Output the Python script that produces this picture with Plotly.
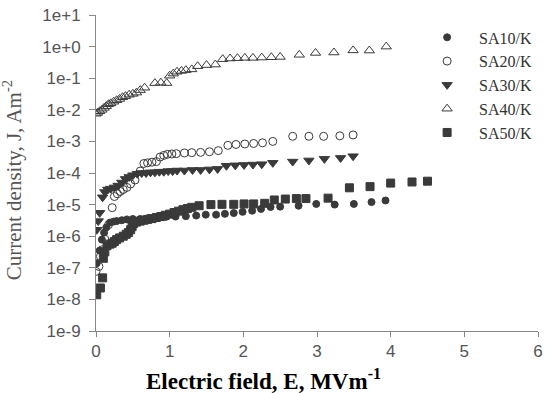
import plotly.graph_objects as go

# ---- data ----
sa10_x = [0.01, 0.05, 0.08, 0.11, 0.14, 0.19, 0.24, 0.28, 0.35, 0.42, 0.50, 0.60, 0.70, 0.82, 0.95,
          1.08, 1.22, 1.36, 1.49, 1.63, 1.75, 1.87, 1.99, 2.12, 2.24, 2.37, 2.50, 2.75, 2.99, 3.24,
          3.50, 3.74, 3.93]
sa10_y = [1.4e-7, 3.5e-7, 7.8e-7, 1.3e-6, 1.9e-6, 2.7e-6, 2.9e-6, 3.0e-6, 3.2e-6, 3.4e-6, 3.5e-6,
          3.5e-6, 3.7e-6, 4.0e-6, 4.1e-6, 4.2e-6, 4.3e-6, 4.5e-6, 4.8e-6, 4.8e-6, 5.1e-6, 5.4e-6,
          5.9e-6, 6.4e-6, 7.3e-6, 8.4e-6, 8.6e-6, 9.2e-6, 1.05e-5, 1.0e-5, 1.05e-5, 1.2e-5, 1.35e-5]

sa20_x = [0.00, 0.04, 0.06, 0.08, 0.12, 0.17, 0.22, 0.25, 0.29, 0.33, 0.37, 0.42, 0.47, 0.53, 0.60,
          0.65, 0.70, 0.76, 0.82, 0.87, 0.92, 0.97, 1.03, 1.09, 1.20, 1.30, 1.42, 1.54, 1.66, 1.79,
          1.90, 2.02, 2.14, 2.26, 2.40, 2.67, 2.89, 3.09, 3.31, 3.49]
sa20_y = [7.7e-8, 1.1e-7, 2.3e-7, 3.7e-7, 8.0e-7, 2.3e-6, 8.0e-6, 1.8e-5, 2.2e-5, 2.6e-5, 3.0e-5,
          3.5e-5, 4.5e-5, 6.0e-5, 1.15e-4, 2.0e-4, 2.1e-4, 2.2e-4, 2.3e-4, 3.2e-4, 3.6e-4, 3.9e-4,
          4.0e-4, 4.1e-4, 4.3e-4, 4.4e-4, 4.5e-4, 4.7e-4, 5.1e-4, 7.5e-4, 8.0e-4, 8.3e-4, 8.6e-4,
          9.0e-4, 1.0e-3, 1.45e-3, 1.45e-3, 1.45e-3, 1.5e-3, 1.6e-3]

sa30_x = [0.01, 0.03, 0.05, 0.09, 0.12, 0.16, 0.20, 0.25, 0.30, 0.35, 0.40, 0.45, 0.50, 0.56, 0.62,
          0.68, 0.74, 0.80, 0.86, 0.92, 0.98, 1.04, 1.10, 1.20, 1.31, 1.42, 1.54, 1.65, 1.77, 1.89,
          2.01, 2.13, 2.25, 2.40, 2.67, 2.89, 3.10, 3.32, 3.49]
sa30_y = [1.6e-6, 3.0e-6, 5.5e-6, 1.7e-5, 2.5e-5, 3.0e-5, 3.2e-5, 3.5e-5, 4.0e-5, 5.0e-5, 6.5e-5,
          7.5e-5, 8.5e-5, 9.5e-5, 1.0e-4, 1.0e-4, 1.05e-4, 1.05e-4, 1.1e-4, 1.1e-4, 1.15e-4, 1.15e-4,
          1.2e-4, 1.2e-4, 1.25e-4, 1.25e-4, 1.3e-4, 1.35e-4, 1.7e-4, 1.75e-4, 1.8e-4, 1.85e-4,
          1.9e-4, 2.1e-4, 2.3e-4, 2.5e-4, 2.8e-4, 3.0e-4, 3.4e-4]

sa40_x = [0.00, 0.02, 0.05, 0.08, 0.11, 0.14, 0.17, 0.20, 0.24, 0.28, 0.32, 0.36, 0.40, 0.45, 0.50,
          0.55, 0.60, 0.66, 0.80, 0.88, 0.96, 1.00, 1.05, 1.10, 1.16, 1.22, 1.30, 1.38, 1.50, 1.62,
          1.72, 1.82, 1.92, 2.02, 2.13, 2.25, 2.38, 2.50, 2.76, 2.98, 3.23, 3.49, 3.71, 3.94]
sa40_y = [7.5e-3, 8.0e-3, 9.0e-3, 1.0e-2, 1.15e-2, 1.3e-2, 1.5e-2, 1.6e-2, 1.8e-2, 2.0e-2, 2.2e-2,
          2.5e-2, 2.7e-2, 3.0e-2, 3.2e-2, 3.5e-2, 4.2e-2, 5.0e-2, 7.0e-2, 7.2e-2, 7.0e-2, 1.2e-1,
          1.4e-1, 1.6e-1, 1.7e-1, 1.8e-1, 1.9e-1, 2.4e-1, 2.6e-1, 2.7e-1, 4.0e-1, 4.2e-1, 4.3e-1,
          4.4e-1, 4.4e-1, 4.5e-1, 4.6e-1, 4.7e-1, 5.5e-1, 6.3e-1, 6.5e-1, 7.6e-1, 7.5e-1, 1.0]

sa50_x = [0.01, 0.06, 0.09, 0.10, 0.12, 0.15, 0.19, 0.22, 0.25, 0.28, 0.32, 0.37, 0.41, 0.44, 0.47,
          0.49, 0.51, 0.55, 0.60, 0.65, 0.70, 0.76, 0.82, 0.88, 0.94, 1.00, 1.06, 1.12, 1.18, 1.24,
          1.30, 1.40, 1.56, 1.71, 1.87, 2.01, 2.14, 2.29, 2.42, 2.57, 2.72, 2.85, 3.15, 3.44, 3.72,
          4.00, 4.29, 4.50]
sa50_y = [1.4e-8, 2.3e-8, 4.8e-8, 2.0e-7, 3.2e-7, 5.0e-7, 5.6e-7, 6.0e-7, 6.8e-7, 7.8e-7, 8.8e-7,
          1.0e-6, 1.15e-6, 1.3e-6, 1.6e-6, 2.0e-6, 2.5e-6, 2.8e-6, 3.0e-6, 3.2e-6, 3.4e-6, 3.6e-6,
          3.9e-6, 4.2e-6, 4.6e-6, 5.0e-6, 5.6e-6, 6.2e-6, 6.9e-6, 7.5e-6, 8.2e-6, 9.2e-6, 1.0e-5,
          1.02e-5, 1.02e-5, 1.05e-5, 1.05e-5, 1.1e-5, 1.4e-5, 1.5e-5, 1.55e-5, 1.55e-5, 1.6e-5,
          3.4e-5, 3.7e-5, 4.8e-5, 5.2e-5, 5.5e-5]

names = ["SA10/K", "SA20/K", "SA30/K", "SA40/K", "SA50/K"]
y_tickvals = [1e1, 1e0, 1e-1, 1e-2, 1e-3, 1e-4, 1e-5, 1e-6, 1e-7, 1e-8, 1e-9]
y_ticktext = ["1e+1", "1e+0", "1e-1", "1e-2", "1e-3", "1e-4", "1e-5", "1e-6", "1e-7", "1e-8", "1e-9"]
x_tickvals = [0, 1, 2, 3, 4, 5, 6]

DARK = "#3a3a3a"
series = [
    (sa10_x, sa10_y, "circle", 7),
    (sa20_x, sa20_y, "circle-open", 8),
    (sa30_x, sa30_y, "triangle-down", 9),
    (sa40_x, sa40_y, "triangle-up-open", 9),
    (sa50_x, sa50_y, "square", 8),
]

fig = go.Figure()
for (xs, ys, sym, sz), nm in zip(series, names):
    fig.add_trace(go.Scatter(
        x=xs, y=ys, mode="markers", name=nm,
        marker=dict(symbol=sym, size=sz, color=DARK, line=dict(width=1, color=DARK)),
    ))

fig.update_layout(
    width=548, height=393,
    margin=dict(l=96, r=5, t=15, b=62),
    paper_bgcolor="white", plot_bgcolor="white",
    showlegend=True,
    legend=dict(x=0.722, y=0.983, xanchor="left", yanchor="top", itemwidth=54,
                font=dict(family="Liberation Serif, Times New Roman, serif", size=16, color="#333"),
                bgcolor="rgba(0,0,0,0)", tracegroupgap=0),
    xaxis=dict(range=[0, 6], tickvals=x_tickvals, showline=True, linecolor="#888", linewidth=1,
               ticks="outside", ticklen=5, tickcolor="#888", showgrid=False, zeroline=False,
               ticklabeloverflow="allow",
               tickfont=dict(family="Liberation Sans, Arial, sans-serif", size=17, color="#555")),
    yaxis=dict(type="log", range=[-9, 1], tickvals=y_tickvals, ticktext=y_ticktext,
               showline=True, linecolor="#888", linewidth=1, ticks="outside", ticklen=6,
               tickcolor="#888", showgrid=False, zeroline=False, ticklabelstandoff=5,
               tickfont=dict(family="Liberation Sans, Arial, sans-serif", size=17, color="#555")),
    annotations=[
        dict(text="Current density, J, Am<sup>-2</sup>", xref="paper", yref="paper",
             x=-0.187, y=0.478, xanchor="center", yanchor="middle", textangle=-90, showarrow=False,
             font=dict(family="Liberation Serif, Times New Roman, serif", size=21, color="#555")),
        dict(text="<b>Electric field, E, MVm<sup>-1</sup></b>", xref="paper", yref="paper",
             x=0.38, y=-0.152, xanchor="center", yanchor="middle", showarrow=False,
             font=dict(family="Liberation Serif, Times New Roman, serif", size=23, color="#000")),
    ],
)

fig.write_html("out.html")
